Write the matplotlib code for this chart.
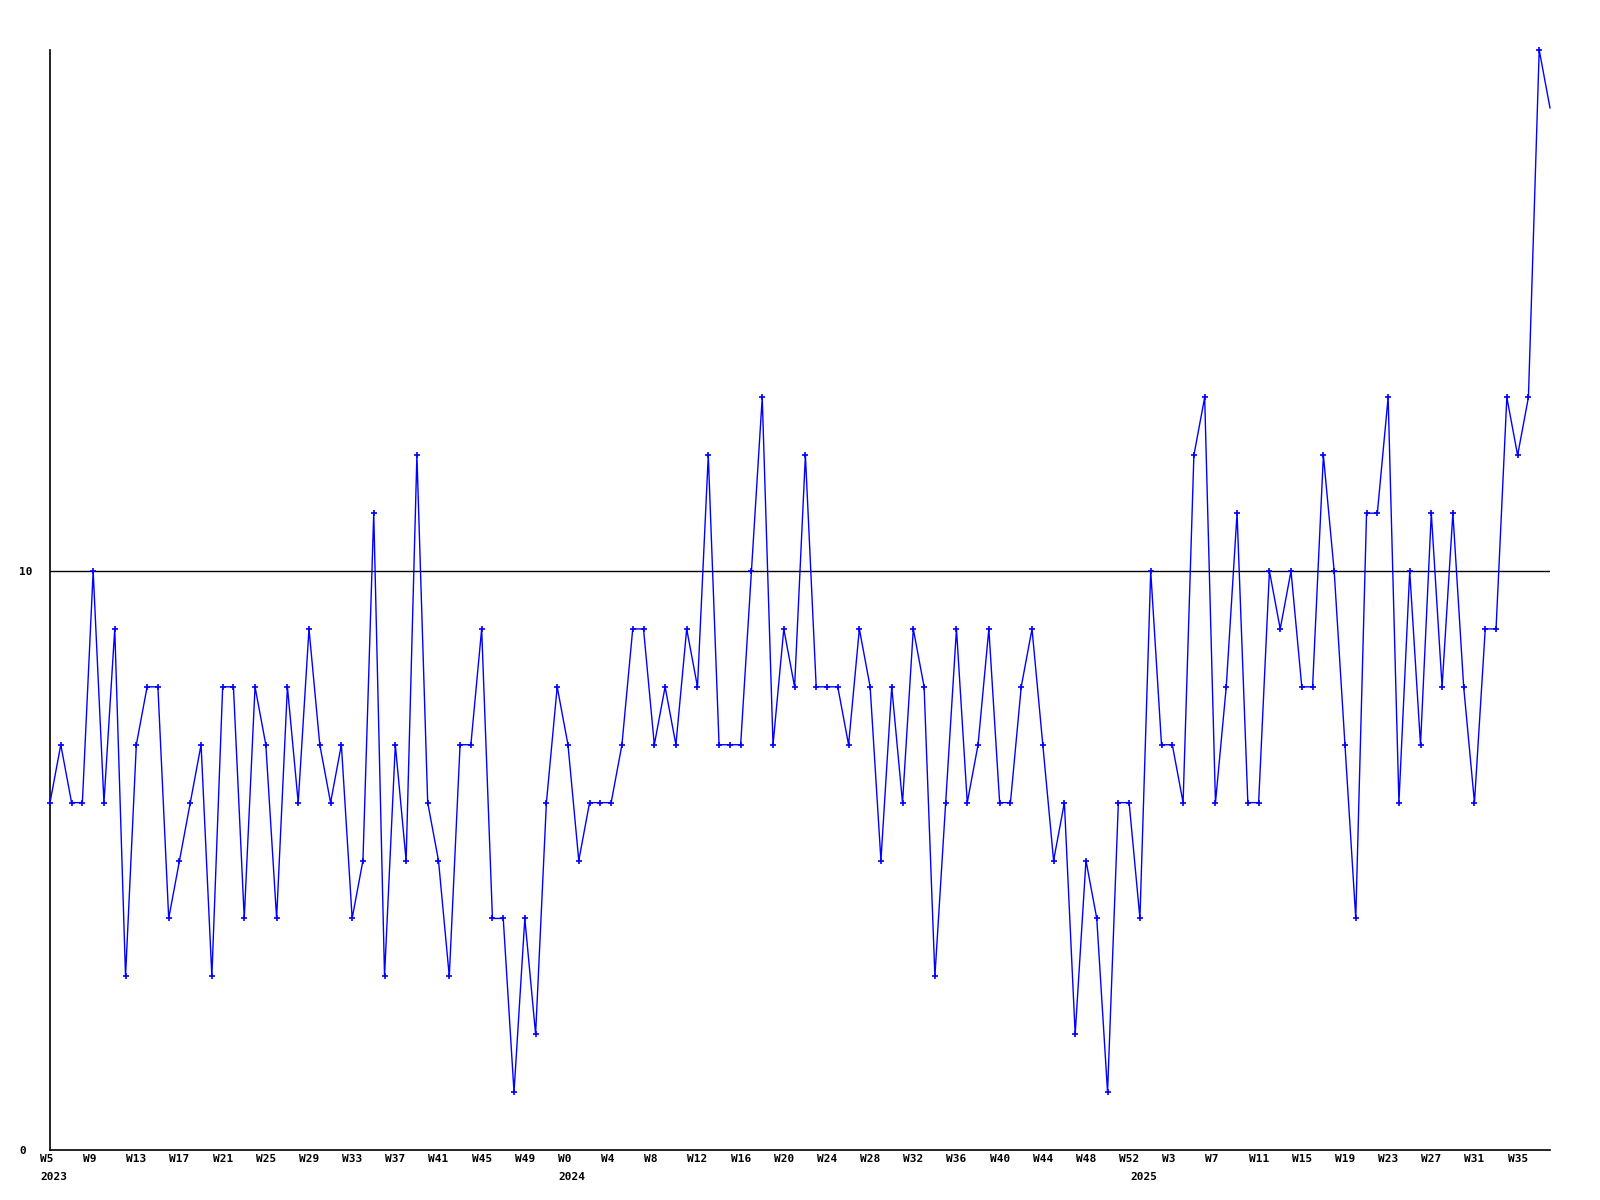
import matplotlib
matplotlib.use("Agg")
import matplotlib.pyplot as plt
from matplotlib.transforms import ScaledTranslation, blended_transform_factory

# weekly values, 2023 W5 .. 2025 W38
values = [6, 7, 6, 6, 10, 6, 9, 3, 7, 8, 8, 4, 5, 6, 7, 3, 8, 8, 4, 8, 7, 4, 8, 6,
          9, 7, 6, 7, 4, 5, 11, 3, 7, 5, 12, 6, 5, 3, 7, 7, 9, 4, 4, 1, 4, 2, 6,
          8, 7, 5, 6, 6, 6, 7, 9, 9, 7, 8, 7, 9, 8, 12, 7, 7, 7, 10, 13, 7, 9, 8,
          12, 8, 8, 8, 7, 9, 8, 5, 8, 6, 9, 8, 3, 6, 9, 6, 7, 9, 6, 6, 8, 9, 7,
          5, 6, 2, 5, 4, 1, 6, 6, 4, 10, 7, 7, 6, 12, 13, 6, 8, 11, 6, 6, 10, 9, 10,
          8, 8, 12, 10, 7, 4, 11, 11, 13, 6, 10, 7, 11, 8, 11, 8, 6, 9, 9, 13, 12, 13,
          19, 18]

week_tick_pos = [0, 4, 8, 12, 16, 20, 24, 28, 32, 36, 40, 44,
                 48, 52, 56, 60, 64, 68, 72, 76, 80, 84, 88, 92, 96, 100,
                 104, 108, 112, 116, 120, 124, 128, 132, 136]
week_tick_labels = ["W5", "W9", "W13", "W17", "W21", "W25", "W29", "W33", "W37", "W41", "W45", "W49",
                    "W0", "W4", "W8", "W12", "W16", "W20", "W24", "W28", "W32", "W36", "W40", "W44", "W48", "W52",
                    "W3", "W7", "W11", "W15", "W19", "W23", "W27", "W31", "W35"]
year_pos = [0, 48, 101]
year_labels = ["2023", "2024", "2025"]
y_ticks = [0, 10]
y_tick_labels = ["0", "10"]
ref_level = 10

font = dict(family="DejaVu Sans Mono", weight="bold", size=8)

fig = plt.figure(figsize=(16, 12), dpi=100)
ax = fig.add_axes([50 / 1600, 50 / 1200, 1500 / 1600, 1100 / 1200])

x = list(range(len(values)))
ax.plot(x, values, color="#0000ff", linewidth=1.0, marker="+", markersize=4,
        markeredgewidth=1.2, markevery=list(range(len(values) - 1)), clip_on=False, zorder=3)
ax.axhline(ref_level, color="black", linewidth=1.0, zorder=2)

ax.set_xlim(0, len(values) - 1)
ax.set_ylim(0, 19)

for s in ["top", "right"]:
    ax.spines[s].set_visible(False)
for s in ["left", "bottom"]:
    ax.spines[s].set_color("black")
    ax.spines[s].set_linewidth(1.2)

ax.set_xticks(week_tick_pos)
ax.set_xticklabels(week_tick_labels, **font)
ax.tick_params(axis="x", length=0, pad=3)
off_x = ScaledTranslation(-10 / 100, 0, fig.dpi_scale_trans)
for lab in ax.get_xticklabels():
    lab.set_horizontalalignment("left")
    lab.set_transform(lab.get_transform() + off_x)

ax.set_yticks(y_ticks)
ax.set_yticklabels(y_tick_labels, **font)
ax.tick_params(axis="y", length=0, pad=0)
off_y = ScaledTranslation(-31 / 100, 0, fig.dpi_scale_trans)
for lab in ax.get_yticklabels():
    lab.set_horizontalalignment("left")
    lab.set_transform(lab.get_transform() + off_y)

trans = blended_transform_factory(ax.transData, ax.transAxes) + ScaledTranslation(-10 / 100, -27 / 100, fig.dpi_scale_trans)
for p, t in zip(year_pos, year_labels):
    ax.text(p, 0, t, transform=trans, ha="left", va="center", **font)

fig.savefig("out.png", dpi=100, facecolor="white")
